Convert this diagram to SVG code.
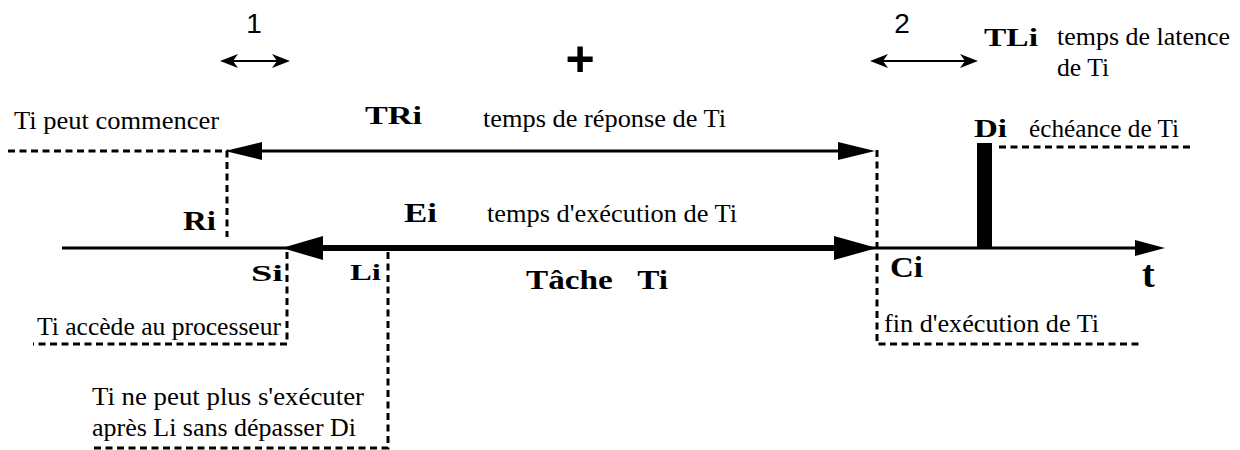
<svg xmlns="http://www.w3.org/2000/svg" width="1240" height="450" viewBox="0 0 1240 450">
  <style>
    .reg { font-family: "Liberation Serif", "Times New Roman", serif; font-size: 25px; fill: #000; }
    .bold { font-family: "Liberation Serif", "Times New Roman", serif; font-weight: bold; fill: #000; }
    .num { font-family: "Liberation Sans", Arial, sans-serif; font-size: 28px; fill: #000; }
    .plus { font-family: "Liberation Sans", Arial, sans-serif; font-size: 50px; font-weight: bold; fill: #000; }
    .dash { fill: none; stroke: #000; stroke-width: 3; stroke-dasharray: 7 4.5; }
    .line { fill: none; stroke: #000; }
    .head { fill: #000; stroke: none; }
  </style>

  <rect width="1240" height="450" fill="#fff"/>

  <!-- time axis -->
  <g id="axis">
    <line class="line" x1="62" y1="248" x2="1140" y2="248" stroke-width="3"/>
    <path class="head" d="M1165,248 L1135,240 L1135,256 Z"/>
    <text class="bold" x="1142" y="287" font-size="38">t</text>
  </g>

  <!-- deadline bar Di -->
  <g id="deadline">
    <rect x="977" y="143" width="15" height="105" fill="#000"/>
    <line class="dash" x1="999" y1="147" x2="1193" y2="147"/>
    <text class="bold" x="974" y="137" font-size="25" textLength="33" lengthAdjust="spacingAndGlyphs">Di</text>
    <text class="reg" x="1029" y="137" textLength="150" lengthAdjust="spacingAndGlyphs">échéance de Ti</text>
  </g>

  <!-- event markers -->
  <g id="release">
    <polyline class="dash" points="8,151 227,151 227,237"/>
    <text class="reg" x="14" y="129" textLength="205" lengthAdjust="spacingAndGlyphs">Ti peut commencer</text>
    <text class="bold" x="183" y="230" font-size="28" textLength="33" lengthAdjust="spacingAndGlyphs">Ri</text>
  </g>

  <g id="start">
    <polyline class="dash" points="287,252 287,344 33,344"/>
    <text class="bold" x="251" y="281" font-size="24" textLength="32" lengthAdjust="spacingAndGlyphs">Si</text>
    <text class="reg" x="37" y="335" textLength="244" lengthAdjust="spacingAndGlyphs">Ti accède au processeur</text>
  </g>

  <g id="latest">
    <polyline class="dash" points="388,252 388,448 92,448"/>
    <text class="bold" x="350" y="280" font-size="24" textLength="31" lengthAdjust="spacingAndGlyphs">Li</text>
    <text class="reg" x="92" y="405" textLength="272" lengthAdjust="spacingAndGlyphs">Ti ne peut plus s'exécuter</text>
    <text class="reg" x="92" y="436" textLength="264" lengthAdjust="spacingAndGlyphs">après Li sans dépasser Di</text>
  </g>

  <g id="completion">
    <polyline class="dash" points="877,150 877,344 1143,344"/>
    <text class="bold" x="890" y="277" font-size="29" textLength="33" lengthAdjust="spacingAndGlyphs">Ci</text>
    <text class="reg" x="884" y="332" textLength="215" lengthAdjust="spacingAndGlyphs">fin d'exécution de Ti</text>
  </g>

  <!-- interval arrows -->
  <g id="connectors">
    <!-- response time TRi -->
    <line class="line" x1="255" y1="151" x2="845" y2="151" stroke-width="3"/>
    <path class="head" d="M225,151 L262,142 L262,160 Z"/>
    <path class="head" d="M875,151 L838,142 L838,160 Z"/>
    <!-- execution time Ei -->
    <line class="line" x1="315" y1="248" x2="842" y2="248" stroke-width="6"/>
    <path class="head" d="M282,248 L323,236 L323,260 Z"/>
    <path class="head" d="M877,248 L834,236 L834,260 Z"/>
    <!-- offset 1 -->
    <line class="line" x1="226" y1="61" x2="284" y2="61" stroke-width="2"/>
    <path class="head" d="M220,61 L238,54 L233,61 L238,68 Z"/>
    <path class="head" d="M290,61 L272,54 L277,61 L272,68 Z"/>
    <!-- offset 2 -->
    <line class="line" x1="876" y1="61" x2="972" y2="61" stroke-width="2"/>
    <path class="head" d="M870,61 L888,54 L883,61 L888,68 Z"/>
    <path class="head" d="M978,61 L960,54 L965,61 L960,68 Z"/>
  </g>

  <!-- interval labels -->
  <g id="labels">
    <text class="num" x="254" y="33" text-anchor="middle">1</text>
    <text class="num" x="902" y="33" text-anchor="middle">2</text>
    <text class="plus" x="580" y="76" text-anchor="middle">+</text>
    <text class="bold" x="365" y="124" font-size="25" textLength="57" lengthAdjust="spacingAndGlyphs">TRi</text>
    <text class="reg" x="483" y="127" textLength="243" lengthAdjust="spacingAndGlyphs">temps de réponse de Ti</text>
    <text class="bold" x="404" y="222" font-size="28" textLength="33" lengthAdjust="spacingAndGlyphs">Ei</text>
    <text class="reg" x="487" y="222" textLength="250" lengthAdjust="spacingAndGlyphs">temps d'exécution de Ti</text>
    <text class="bold" x="526" y="289" font-size="28" xml:space="preserve" textLength="142" lengthAdjust="spacingAndGlyphs">Tâche   Ti</text>
    <text class="bold" x="984" y="46" font-size="25" textLength="54" lengthAdjust="spacingAndGlyphs">TLi</text>
    <text class="reg" x="1057" y="45" textLength="173" lengthAdjust="spacingAndGlyphs">temps de latence</text>
    <text class="reg" x="1057" y="76" textLength="52" lengthAdjust="spacingAndGlyphs">de Ti</text>
  </g>
</svg>
